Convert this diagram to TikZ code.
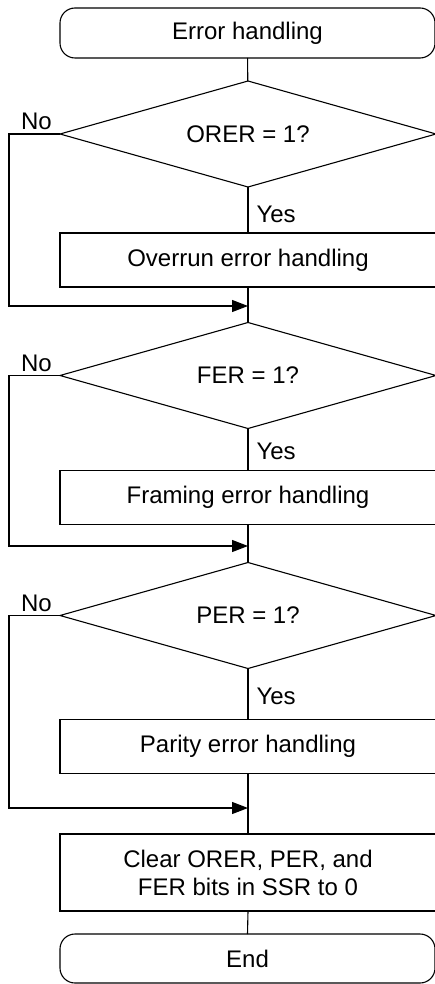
\documentclass[tikz,border=0pt]{standalone}
\usepackage{fontspec}
\setmainfont{Liberation Sans}
\usetikzlibrary{shapes.geometric,arrows.meta,positioning}
\begin{document}
\begin{tikzpicture}[x=1pt,y=1pt,
  every node/.style={font=\fontsize{24}{28}\selectfont},
  line/.style={draw=black,line width=1.1pt},
  term/.style={line,rectangle,rounded corners=15pt,minimum width=375pt,minimum height=50pt,inner sep=0pt,outer sep=0pt},
  proc/.style={line,rectangle,minimum width=376pt,minimum height=54pt,inner sep=0pt,outer sep=0pt,align=center},
  dec/.style={line,diamond,aspect=3.5,minimum width=376pt,minimum height=106pt,inner sep=0pt,outer sep=0pt},
  arr/.style={line,-{Triangle[length=16pt,width=12pt]}},
  yeslbl/.style={anchor=west,inner sep=0pt,xshift=8pt},
  nolbl/.style={inner sep=0pt}
]
\useasboundingbox (0,0) rectangle (434,-984);
\node[term] (start) at (247.5,-33) {Error handling};
\node[dec] (d1) at (248,-134) {ORER = 1?};
\node[proc] (b1) at (248,-260) {Overrun error handling};
\coordinate (m1) at (248,-306);
\node[dec] (d2) at (248,-375.5) {FER = 1?};
\node[proc] (b2) at (248,-497.5) {Framing error handling};
\coordinate (m2) at (248,-546);
\node[dec] (d3) at (248,-615.5) {PER = 1?};
\node[proc] (b3) at (248,-746.5) {Parity error handling};
\coordinate (m3) at (248,-808);
\node[proc,minimum height=77pt] (b4) at (248,-872.5) {Clear ORER, PER, and\\FER bits in SSR to 0};
\node[term,minimum height=49pt] (end) at (247.5,-958.5) {End};

\node[nolbl,above left=4pt and 8pt of d1.west] (no1) {No};
\node[nolbl,above left=4pt and 8pt of d2.west] (no2) {No};
\node[nolbl,above left=4pt and 8pt of d3.west] (no3) {No};

\draw[line] (start) -- (d1);
\draw[line] (d1.south) -- node[yeslbl,pos=0.6] (y1) {Yes} (b1.north);
\draw[line] (b1.south) -- (m1) -- (d2.north);
\draw[arr] (d1.west) -- ++(-51,0) |- (m1);
\draw[line] (d2.south) -- node[yeslbl,pos=0.55] (y2) {Yes} (b2.north);
\draw[line] (b2.south) -- (m2) -- (d3.north);
\draw[arr] (d2.west) -- ++(-51,0) |- (m2);
\draw[line] (d3.south) -- node[yeslbl,pos=0.55] (y3) {Yes} (b3.north);
\draw[line] (b3.south) -- (m3) -- (b4.north);
\draw[arr] (d3.west) -- ++(-51,0) |- (m3);
\draw[line] (b4.south) -- (end.north);
\end{tikzpicture}
\end{document}
